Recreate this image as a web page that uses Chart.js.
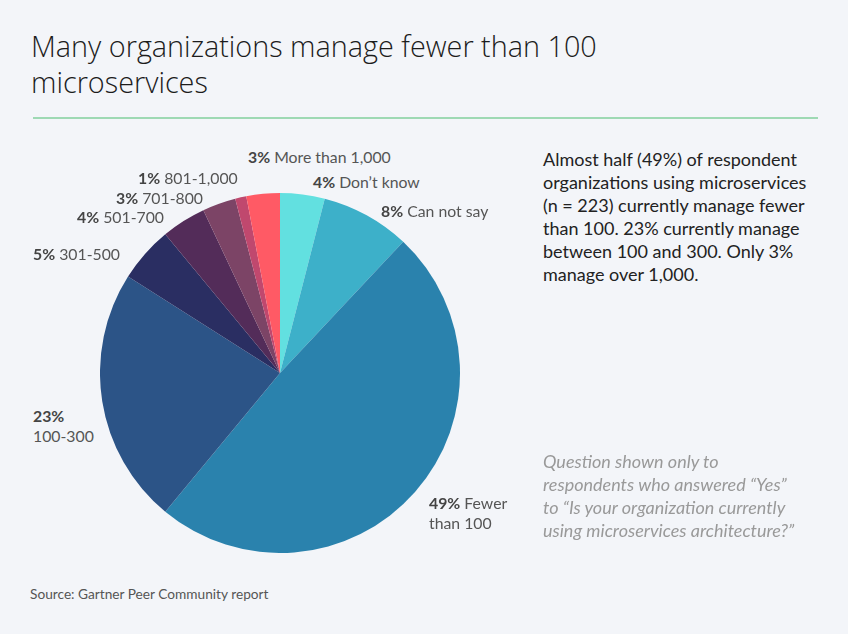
<!DOCTYPE html>
<html>
<head>
<meta charset="utf-8">
<script src="https://cdn.jsdelivr.net/npm/chart.js@4"></script>
<style>
  html, body { margin:0; padding:0; }
  body { width:848px; height:634px; background:#F3F5F9; position:relative; overflow:hidden; font-family:"Lato", "Open Sans", sans-serif; }
  .title { position:absolute; left:31px; top:28px; width:640px; font-family:"Open Sans", sans-serif; font-weight:300; font-size:28.8px; line-height:36px; color:#1c1c1c; }
  .rule { position:absolute; left:33px; top:117px; width:785px; height:2px; background:#9ED9B4; }
  #pieWrap { position:absolute; left:100px; top:193px; width:360px; height:360px; }
  .lbl { position:absolute; font-size:15.8px; line-height:20px; color:#555; white-space:nowrap; }
  .lbl b { color:#444; font-weight:700; }
  .note { position:absolute; left:543px; top:148px; white-space:nowrap; font-size:18px; line-height:23px; color:#222; }
  .q { position:absolute; left:543px; top:450px; white-space:nowrap; font-size:18px; line-height:23px; color:#999; font-style:italic; }
  .src { position:absolute; left:30px; top:585px; font-size:13.7px; color:#555; }
</style>
</head>
<body>
<div class="title">Many organizations manage fewer than 100<br>microservices</div>
<div class="rule"></div>
<div id="pieWrap"><canvas id="c"></canvas></div>
<div id="labels"></div>
<div class="note">Almost half (49%) of respondent<br>organizations using microservices<br>(n = 223) currently manage fewer<br>than 100. 23% currently manage<br>between 100 and 300. Only 3%<br>manage over 1,000.</div>
<div class="q">Question shown only to<br>respondents who answered “Yes”<br>to “Is your organization currently<br>using microservices architecture?”</div>
<div class="src">Source: Gartner Peer Community report</div>
<script>
const categories = ["Don’t know", "Can not say", "Fewer than 100", "100-300", "301-500", "501-700", "701-800", "801-1,000", "More than 1,000"];
const values = [4, 8, 49, 23, 5, 4, 3, 1, 3];
const colors = ["#62E0E0", "#3DB0C9", "#2A82AD", "#2C5487", "#2A2E62", "#532C59", "#7C4466", "#C0486E", "#FF5A65"];
// label placement (layout only)
const labelPos = [
  {x:313, y:172, html:null},
  {x:381, y:201, html:null},
  {x:429, y:493, html:"<b>49%</b> Fewer<br>than 100"},
  {x:33, y:406, html:"<b>23%</b><br>100-300"},
  {x:33, y:244, html:null},
  {x:77, y:207, html:null},
  {x:116, y:188, html:null},
  {x:138, y:168, html:null},
  {x:248, y:147, html:null}
];
const lw = document.getElementById('labels');
categories.forEach((c, i) => {
  const d = document.createElement('div');
  d.className = 'lbl';
  d.style.left = labelPos[i].x + 'px';
  d.style.top = labelPos[i].y + 'px';
  d.innerHTML = labelPos[i].html || ('<b>' + values[i] + '%</b> ' + c);
  lw.appendChild(d);
});
new Chart(document.getElementById('c'), {
  type: 'pie',
  data: { labels: categories, datasets: [{ data: values, backgroundColor: colors, borderWidth: 0 }] },
  options: {
    responsive: true, maintainAspectRatio: false, animation: false,
    layout: { padding: 0 },
    plugins: { legend: { display: false }, tooltip: { enabled: false } }
  }
});
</script>
</body>
</html>
